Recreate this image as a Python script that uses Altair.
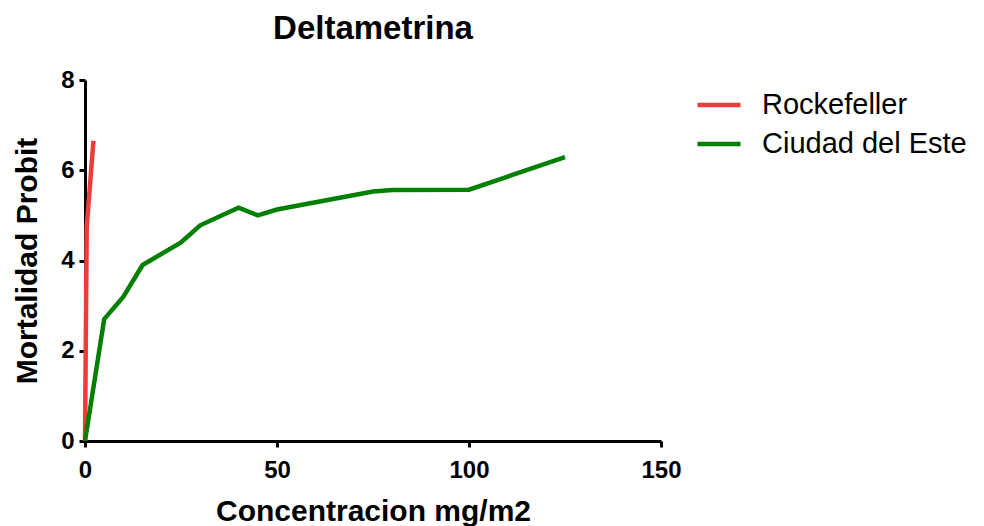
import altair as alt
import pandas as pd

series_names = ["Rockefeller", "Ciudad del Este"]
series_colors = ["#EE3B3B", "#007F00"]

roc_x = [0, 0.45, 2.2]
roc_y = [0, 4.75, 6.65]

cde_x = [0, 5, 10, 15, 25, 30, 40, 45, 50, 75, 80, 100, 125]
cde_y = [0, 2.7, 3.2, 3.9, 4.4, 4.78, 5.17, 5.0, 5.13, 5.53, 5.56, 5.57, 6.29]

x_ticks = [0, 50, 100, 150]
y_ticks = [0, 2, 4, 6, 8]

roc = pd.DataFrame({"x": roc_x, "y": roc_y, "serie": series_names[0]})
cde = pd.DataFrame({"x": cde_x, "y": cde_y, "serie": series_names[1]})

FONT = "Liberation Sans"

xenc = alt.X("x:Q", scale=alt.Scale(domain=[0, 150], nice=False),
             axis=alt.Axis(values=x_ticks, title="Concentracion mg/m2", titlePadding=14,
                           labelPadding=11, labelFlush=False))
yenc = alt.Y("y:Q", scale=alt.Scale(domain=[0, 8], nice=False),
             axis=alt.Axis(values=y_ticks, title="Mortalidad Probit", titlePadding=18,
                           labelPadding=5, labelFlush=False))
cenc = alt.Color("serie:N", scale=alt.Scale(domain=series_names, range=series_colors),
                 legend=alt.Legend(title=None, orient="none", legendX=610, legendY=1,
                                   symbolType="stroke", symbolSize=1849, symbolStrokeWidth=4.5,
                                   labelFontSize=29, labelFont=FONT, labelColor="black",
                                   labelOffset=19, rowPadding=-1, labelLimit=400))

red = alt.Chart(roc).mark_line(strokeWidth=4.5).encode(x=xenc, y=yenc, color=cenc)
green = alt.Chart(cde).mark_line(strokeWidth=4.5).encode(x=xenc, y=yenc, color=cenc)

chart = alt.layer(red, green).properties(
    width=576, height=361,
    title=alt.TitleParams("Deltametrina", fontSize=33, font=FONT, fontWeight="bold",
                          color="black", anchor="middle", offset=22),
    autosize=alt.AutoSizeParams(type="none"),
    padding={"left": 85, "top": 80, "right": 323, "bottom": 85},
).configure_view(stroke=None).configure_axis(
    grid=False, domainColor="black", domainWidth=3, tickColor="black", tickWidth=3,
    tickSize=6, labelFont=FONT, labelFontSize=24, labelFontWeight="bold", labelColor="black",
    titleFont=FONT, titleFontSize=30, titleFontWeight="bold", titleColor="black",
)

chart.save("out.html", embed_options={"renderer": "svg", "actions": False})
